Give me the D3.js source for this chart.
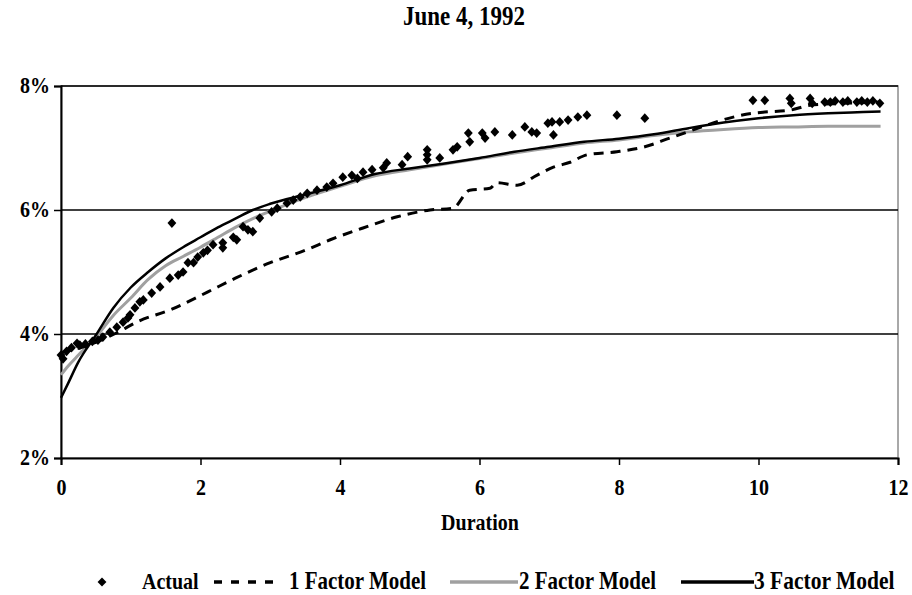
<!DOCTYPE html>
<html lang="en">
  <head>
    <meta charset="UTF-8" />
    <title>June 4, 1992</title>
    <script src="https://d3js.org/d3.v7.min.js"></script>
    <style>
      body {
        margin: 0;
        background: #fff;
      }
      text {
        font-family: "Liberation Serif", "Times New Roman", serif;
        font-weight: bold;
        fill: #000;
      }
      .line {
        fill: none;
        stroke-linejoin: round;
      }
    </style>
  </head>
  <body>
    <svg id="chart" width="912" height="595"></svg>
    <script>
      // Actual yields (duration in years, yield in %)
      const actualDur = [0.0, 0.03, 0.08, 0.15, 0.23, 0.27, 0.35, 0.45, 0.53, 0.6, 0.7, 0.8, 0.89, 0.96, 0.99, 1.06, 1.13, 1.18, 1.3, 1.42, 1.56, 1.59, 1.68, 1.75, 1.82, 1.9, 1.96, 2.04, 2.1, 2.18, 2.32, 2.32, 2.47, 2.52, 2.61, 2.68, 2.75, 2.85, 3.02, 3.1, 3.24, 3.33, 3.43, 3.53, 3.67, 3.81, 3.9, 4.04, 4.17, 4.25, 4.33, 4.46, 4.62, 4.67, 4.89, 4.97, 5.25, 5.25, 5.25, 5.43, 5.62, 5.68, 5.84, 5.86, 6.04, 6.08, 6.22, 6.47, 6.65, 6.75, 6.82, 6.98, 7.04, 7.06, 7.15, 7.27, 7.41, 7.54, 7.97, 8.37, 9.92, 10.09, 10.45, 10.47, 10.74, 10.77, 10.95, 11.03, 11.1, 11.21, 11.28, 11.41, 11.48, 11.56, 11.64, 11.74];
      const actualYld = [3.66, 3.6, 3.72, 3.78, 3.85, 3.82, 3.84, 3.88, 3.9, 3.95, 4.03, 4.11, 4.19, 4.26, 4.31, 4.42, 4.52, 4.55, 4.66, 4.76, 4.9, 5.79, 4.95, 5.0, 5.15, 5.15, 5.24, 5.31, 5.35, 5.44, 5.47, 5.39, 5.56, 5.52, 5.73, 5.68, 5.65, 5.87, 5.97, 6.03, 6.11, 6.16, 6.21, 6.27, 6.32, 6.37, 6.43, 6.53, 6.56, 6.51, 6.61, 6.65, 6.68, 6.76, 6.73, 6.86, 6.97, 6.89, 6.81, 6.84, 6.97, 7.02, 7.24, 7.1, 7.24, 7.16, 7.26, 7.21, 7.34, 7.26, 7.24, 7.4, 7.42, 7.21, 7.42, 7.45, 7.5, 7.53, 7.53, 7.48, 7.77, 7.77, 7.8, 7.72, 7.8, 7.72, 7.74, 7.74, 7.76, 7.74, 7.76, 7.74, 7.76, 7.74, 7.76, 7.72];

      // 1 factor model
      const oneDur = [0, 0.25, 0.53, 0.8, 1.1, 1.59, 2.0, 2.16, 2.5, 3.0, 3.5, 3.86, 4.33, 4.82, 5.29, 5.62, 5.86, 6.15, 6.25, 6.54, 6.82, 7.06, 7.3, 7.54, 7.97, 8.37, 8.73, 9.92, 10.09, 10.45, 10.74, 11.2, 11.74];
      const oneYld = [3.7, 3.77, 3.88, 4.02, 4.2, 4.4, 4.62, 4.71, 4.9, 5.15, 5.35, 5.52, 5.71, 5.89, 6.0, 6.03, 6.32, 6.35, 6.44, 6.4, 6.56, 6.69, 6.77, 6.89, 6.94, 7.02, 7.16, 7.56, 7.58, 7.61, 7.69, 7.72, 7.74];

      // 2 and 3 factor models
      const modelDur = [0, 0.1, 0.25, 0.5, 0.75, 1, 1.25, 1.5, 1.75, 2, 2.25, 2.5, 2.75, 3, 3.5, 4, 4.5, 5, 5.5, 6, 6.5, 7, 7.5, 8, 8.5, 9, 9.5, 10, 10.5, 11, 11.5, 11.75];
      const twoYld = [3.34, 3.48, 3.66, 3.95, 4.3, 4.58, 4.88, 5.1, 5.25, 5.4, 5.56, 5.72, 5.86, 5.98, 6.2, 6.38, 6.55, 6.65, 6.74, 6.83, 6.92, 7.0, 7.08, 7.13, 7.2, 7.26, 7.3, 7.33, 7.34, 7.35, 7.35, 7.35];
      const threeYld = [2.97, 3.2, 3.55, 3.98, 4.42, 4.75, 5.0, 5.22, 5.4, 5.56, 5.72, 5.86, 6.0, 6.1, 6.25, 6.4, 6.58, 6.67, 6.75, 6.84, 6.94, 7.02, 7.1, 7.15, 7.22, 7.32, 7.41, 7.48, 7.53, 7.56, 7.58, 7.59];

      const xTicks = [0, 2, 4, 6, 8, 10, 12];
      const yTicks = [2, 4, 6, 8];

      // the original text is a little stretched vertically
      const stretch = 1.15;

      const svg = d3.select("#chart");
      const margin = { top: 86, right: 14, bottom: 137, left: 61 };
      const width = +svg.attr("width") - margin.left - margin.right;
      const height = +svg.attr("height") - margin.top - margin.bottom;

      const x = d3.scaleLinear().domain([0, 12]).range([0, width]);
      const y = d3.scaleLinear().domain([2, 8]).range([height, 0]);

      const g = svg
        .append("g")
        .attr("transform", `translate(${margin.left},${margin.top})`);

      function label(px, py, size, str, anchor) {
        return svg
          .append("text")
          .attr("transform", `translate(${px},${py}) scale(1,${stretch})`)
          .attr("text-anchor", anchor || "start")
          .style("font-size", size + "px")
          .text(str);
      }

      // title
      label(464, 25, 23, "June 4, 1992", "middle");

      // plot border (grey top/right)
      g.append("rect")
        .attr("width", width)
        .attr("height", height)
        .attr("fill", "none")
        .attr("stroke", "#8c8c8c")
        .attr("stroke-width", 1.5);

      // gridlines
      g.selectAll(".grid")
        .data(yTicks.filter((d) => d > 2))
        .enter()
        .append("line")
        .attr("x1", 0)
        .attr("x2", width)
        .attr("y1", (d) => y(d))
        .attr("y2", (d) => y(d))
        .attr("stroke", "#000")
        .attr("stroke-width", 1.3);

      // Axes
      const yAxis = g
        .append("g")
        .call(
          d3.axisLeft(y).tickValues(yTicks).tickSize(7).tickPadding(4).tickFormat((d) => d + "%")
        );
      const xAxis = g
        .append("g")
        .attr("transform", `translate(0,${height})`)
        .call(d3.axisBottom(x).tickValues(xTicks).tickSize(7).tickPadding(14));
      [xAxis, yAxis].forEach((a) => {
        a.select(".domain").attr("stroke", "#000").attr("stroke-width", 2);
        a.selectAll(".tick line").attr("stroke", "#000").attr("stroke-width", 1.5);
        a.selectAll("text")
          .style("font-family", '"Liberation Serif", serif')
          .style("font-weight", "bold")
          .style("font-size", "20px")
          .attr("fill", "#000")
          .each(function () {
            const yy = +this.getAttribute("y") || 0;
            this.setAttribute("y", yy / stretch);
            this.setAttribute("transform", `scale(1,${stretch})`);
          });
      });
      yAxis.selectAll("text").attr("dy", "0.3em");

      label(480, 530, 20, "Duration", "middle");

      const line = d3
        .line()
        .x((d) => x(d[0]))
        .y((d) => y(d[1]))
        .curve(d3.curveMonotoneX);

      const twoData = modelDur.map((d, i) => [d, twoYld[i]]);
      const threeData = modelDur.map((d, i) => [d, threeYld[i]]);
      const oneData = oneDur.map((d, i) => [d, oneYld[i]]);

      g.append("path")
        .datum(twoData)
        .attr("class", "line")
        .attr("stroke", "#a0a0a0")
        .attr("stroke-width", 3)
        .attr("d", line);

      g.append("path")
        .datum(oneData)
        .attr("class", "line")
        .attr("stroke", "#000")
        .attr("stroke-width", 3)
        .attr("stroke-dasharray", "10,7")
        .attr("d", line);

      g.append("path")
        .datum(threeData)
        .attr("class", "line")
        .attr("stroke", "#000")
        .attr("stroke-width", 2.5)
        .attr("d", line);

      const diamond = d3.symbol().type(d3.symbolDiamond2).size(50);
      g.selectAll(".pt")
        .data(actualDur.map((d, i) => [d, actualYld[i]]))
        .enter()
        .append("path")
        .attr("d", diamond)
        .attr("transform", (d) => `translate(${x(d[0])},${y(d[1])}) scale(1,1.1)`)
        .attr("fill", "#000");

      // Legend
      const ly = 582;
      const legend = svg.append("g");
      legend
        .append("path")
        .attr("d", diamond)
        .attr("transform", `translate(102,${ly})`)
        .attr("fill", "#000");
      label(142, ly + 7, 20, "Actual");
      legend
        .append("line")
        .attr("x1", 214).attr("x2", 278).attr("y1", ly).attr("y2", ly)
        .attr("stroke", "#000").attr("stroke-width", 3.5).attr("stroke-dasharray", "8,9");
      label(289, ly + 7, 21, "1 Factor Model");
      legend
        .append("line")
        .attr("x1", 450).attr("x2", 518).attr("y1", ly).attr("y2", ly)
        .attr("stroke", "#a0a0a0").attr("stroke-width", 3.5);
      label(519, ly + 7, 21, "2 Factor Model");
      legend
        .append("line")
        .attr("x1", 681).attr("x2", 754).attr("y1", ly).attr("y2", ly)
        .attr("stroke", "#000").attr("stroke-width", 3.5);
      label(754, ly + 7, 21.5, "3 Factor Model");
    </script>
  </body>
</html>
